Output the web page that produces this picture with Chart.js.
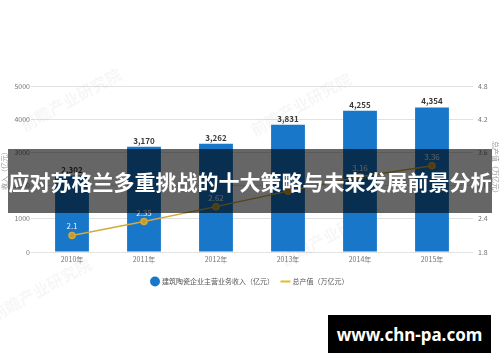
<!DOCTYPE html>
<html>
<head>
<meta charset="utf-8">
<script src="https://cdn.jsdelivr.net/npm/chart.js@4/dist/chart.umd.min.js"></script>
<style>
    body { margin: 0; background: #fff; }
    #wrap { position: relative; width: 500px; height: 362px; overflow: hidden; }
    #banner {
        position: absolute; left: 8px; top: 149px; width: 484px; height: 64px;
        background: rgba(0, 0, 0, 0.6); color: #fff;
        font: bold 21px "Noto Sans CJK SC", sans-serif;
        display: flex; align-items: center; justify-content: center;
        white-space: nowrap;
    }
    #site {
        position: absolute; left: 328px; top: 315px; width: 163px; height: 38px;
        background: #000; color: #fff;
        font: bold 17px "Noto Sans", sans-serif;
        display: flex; align-items: center; justify-content: center;
    }
</style>
</head>
<body>
<div id="wrap">
    <canvas id="mainChart" width="500" height="362"></canvas>
    <div id="banner">应对苏格兰多重挑战的十大策略与未来发展前景分析</div>
    <div id="site">www.chn-pa.com</div>
</div>
<script>
// данные
const years = ['2010年', '2011年', '2012年', '2013年', '2014年', '2015年'];
const revenue = [2302, 3170, 3262, 3831, 4255, 4354];
const output = [2.1, 2.35, 2.62, 2.9, 3.16, 3.36];
const revenueLabel = '建筑陶瓷企业主营业务收入（亿元）';
const outputLabel = '总产值（万亿元）';
const leftTicks = [0, 1000, 2000, 3000, 4000, 5000];
const rightTicks = [1.8, 2.4, 3.0, 3.6, 4.2, 4.8];
const watermarks = ['前瞻产业研究院', '前瞻产业研究院', '前瞻产业研究院', '前瞻产业研究院'];

const FONT = '"Noto Sans CJK SC", sans-serif';

// подписи значений
const valueLabels = {
    id: 'valueLabels',
    afterDatasetsDraw(chart) {
        const ctx = chart.ctx;
        ctx.save();
        ctx.textAlign = 'center';
        ctx.textBaseline = 'middle';

        chart.getDatasetMeta(0).data.forEach((bar, i) => {
            ctx.fillStyle = '#3a3a3a';
            ctx.font = 'bold 8px ' + FONT;
            ctx.fillText(revenue[i].toLocaleString('en-US'), bar.x, bar.y - 6);
        });

        chart.getDatasetMeta(1).data.forEach((pt, i) => {
            ctx.fillStyle = '#eeeeee';
            ctx.font = '8px ' + FONT;
            ctx.fillText(output[i].toFixed(2).replace(/0$/, ''), pt.x, pt.y - 9);
        });
        ctx.restore();
    }
};

// водяные знаки
const watermarkPlugin = {
    id: 'watermarkPlugin',
    beforeDatasetsDraw(chart) {
        const ctx = chart.ctx;
        const spots = [[70, 100], [300, 105], [330, 235], [40, 290]];
        ctx.save();
        ctx.fillStyle = 'rgba(0, 0, 0, 0.035)';
        ctx.font = 'bold 16px ' + FONT;
        watermarks.forEach((t, i) => {
            ctx.save();
            ctx.translate(spots[i][0], spots[i][1]);
            ctx.rotate(-0.5);
            ctx.fillText(t, -55, 0);
            ctx.restore();
        });
        ctx.restore();
    }
};

const ctx = document.getElementById('mainChart').getContext('2d');

new Chart(ctx, {
    type: 'bar',
    data: {
        labels: years,
        datasets: [{
            label: revenueLabel,
            data: revenue,
            backgroundColor: '#1877c9',
            barPercentage: 0.47,
            categoryPercentage: 1,
            yAxisID: 'y',
            order: 1
        }, {
            type: 'line',
            label: outputLabel,
            data: output,
            borderColor: '#d2aa3c',
            backgroundColor: '#c49a2c',
            borderWidth: 1.5,
            pointRadius: 3,
            pointStyle: 'circle',
            yAxisID: 'y1',
            order: 0
        }]
    },
    options: {
        responsive: false,
        animation: false,
        layout: {
            padding: { top: 86, bottom: 67, left: 0, right: 0 }
        },
        scales: {
            x: {
                grid: { display: false, drawTicks: false },
                border: { display: false },
                ticks: {
                    padding: 3,
                    color: '#777',
                    font: { size: 7, family: FONT }
                },
                afterFit: scale => { scale.height = 18; }
            },
            y: {
                position: 'left',
                min: 0,
                max: 5000,
                afterBuildTicks: scale => { scale.ticks = leftTicks.map(v => ({ value: v })); },
                grid: { color: '#e2e2e2', tickLength: 5 },
                border: { display: false },
                ticks: {
                    padding: 1,
                    color: '#777',
                    font: { size: 7, family: FONT },
                    callback: v => String(v)
                },
                title: {
                    display: true,
                    text: '收入（亿元）',
                    color: '#999',
                    padding: 0,
                    font: { size: 7, family: FONT }
                },
                afterFit: scale => { scale.width = 36; }
            },
            y1: {
                position: 'right',
                min: 1.8,
                max: 4.8,
                afterBuildTicks: scale => { scale.ticks = rightTicks.map(v => ({ value: v })); },
                grid: { drawOnChartArea: false, color: '#e2e2e2', tickLength: 5 },
                border: { display: false },
                ticks: {
                    padding: 5,
                    color: '#777',
                    font: { size: 7, family: FONT },
                    callback: v => Number(v).toFixed(1)
                },
                title: {
                    display: true,
                    text: '总产值（万亿元）',
                    color: '#999',
                    padding: 0,
                    font: { size: 7, family: FONT }
                },
                afterFit: scale => { scale.width = 32; }
            }
        },
        plugins: {
            legend: {
                display: true,
                position: 'bottom',
                labels: {
                    usePointStyle: true,
                    boxWidth: 7,
                    boxHeight: 7,
                    padding: 8,
                    color: '#555',
                    font: { size: 7, family: FONT },
                    sort: (a, b) => a.datasetIndex - b.datasetIndex,
                    generateLabels: chart => {
                        const items = Chart.defaults.plugins.legend.labels.generateLabels(chart);
                        items.forEach(item => {
                            if (item.datasetIndex === 1) {
                                item.pointStyle = 'line';
                                item.strokeStyle = '#e8b820';
                                item.lineWidth = 2;
                            } else {
                                item.pointStyle = 'circle';
                            }
                        });
                        return items;
                    }
                }
            },
            tooltip: { enabled: false }
        }
    },
    plugins: [watermarkPlugin, valueLabels]
});
</script>
</body>
</html>
